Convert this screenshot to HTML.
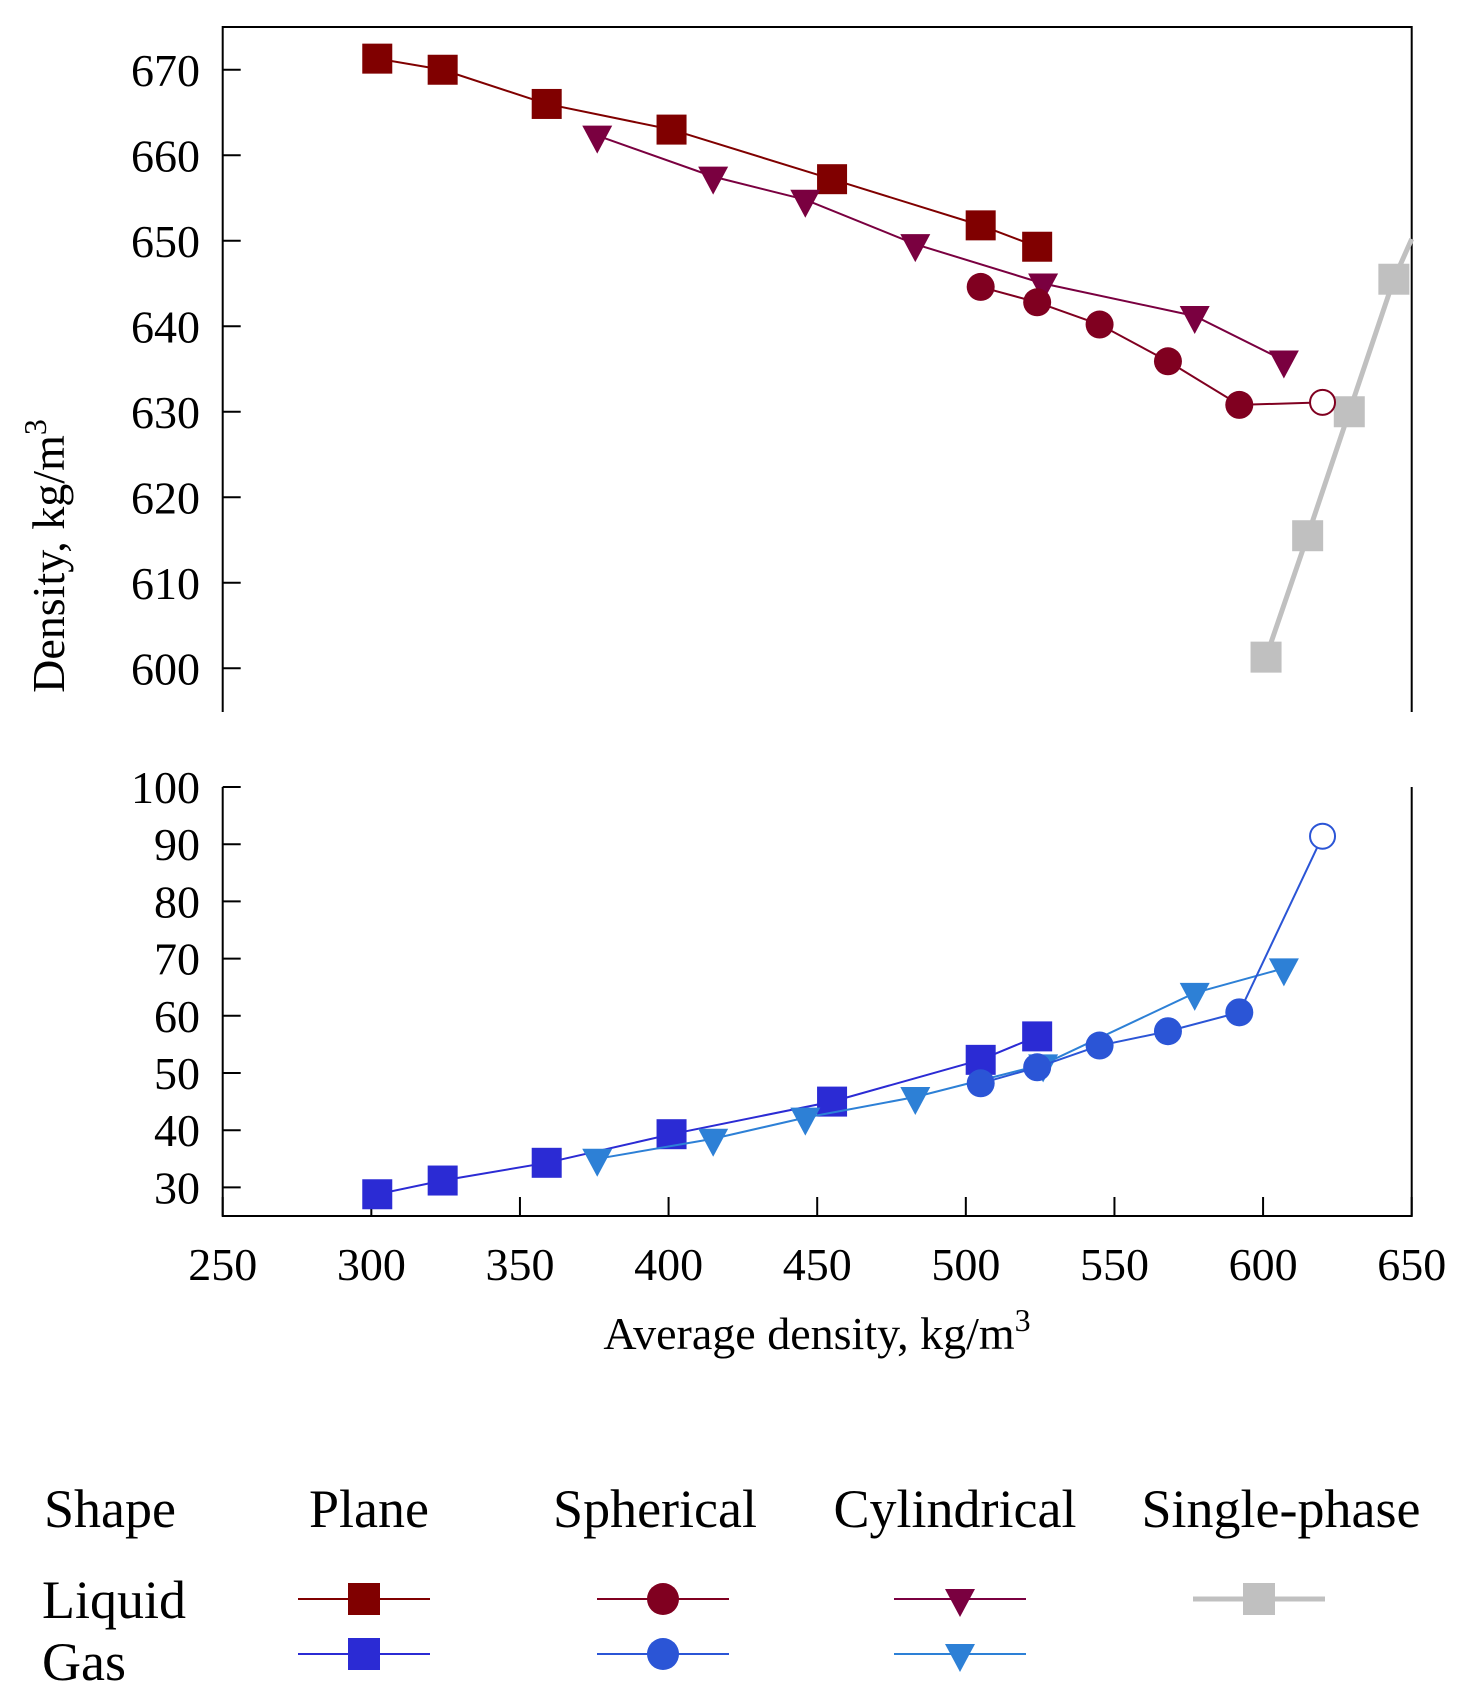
<!DOCTYPE html>
<html><head><meta charset="utf-8"><style>
html,body{margin:0;padding:0;background:#fff;}
svg{display:block;font-family:"Liberation Serif",serif;}
</style></head><body>
<svg id="chart" width="1470" height="1702" viewBox="0 0 1470 1702" xmlns="http://www.w3.org/2000/svg">
<g id="axes"></g><g id="series"></g>
<text transform="translate(64,556) rotate(-90)" text-anchor="middle" font-size="46">Density, kg/m<tspan dy="-18" font-size="32">3</tspan></text>
<text x="817" y="1349" text-anchor="middle" font-size="46">Average density, kg/m<tspan dy="-18" font-size="32">3</tspan></text>
<g font-size="54">
<text x="44" y="1527">Shape</text>
<text x="369" y="1527" text-anchor="middle">Plane</text>
<text x="655" y="1527" text-anchor="middle">Spherical</text>
<text x="955" y="1527" text-anchor="middle">Cylindrical</text>
<text x="1281" y="1527" text-anchor="middle">Single-phase</text>
<text x="42" y="1618">Liquid</text>
<text x="42" y="1680">Gas</text>
</g>
<g id="legend-marks"></g>
</svg>
<script>
const xTicks=[250,300,350,400,450,500,550,600,650];
const topTicks=[600,610,620,630,640,650,660,670];
const botTicks=[30,40,50,60,70,80,90,100];
const liqPlaneX=[302,324,359,401,455,505,524];
const liqPlaneY=[671.3,670,666,663,657.2,651.8,649.3];
const liqCylX=[376,415,446,483,526,577,607];
const liqCylY=[662.3,657.5,654.8,649.6,645,641.2,636];
const liqSphX=[505,524,545,568,592,620];
const liqSphY=[644.6,642.8,640.2,635.9,630.8,631.1];
const singleX=[601,615,629,644,650];
const singleY=[601.3,615.5,630,645.5,650.2];
const gasPlaneX=[302,324,359,401,455,505,524];
const gasPlaneY=[28.8,31.2,34.3,39.3,45,52.3,56.4];
const gasSphX=[505,524,545,568,592,620];
const gasSphY=[48.2,51,54.8,57.3,60.6,91.4];
const gasCylX=[376,415,446,483,526,577,607];
const gasCylY=[35,38.5,42.2,45.8,51.5,64,68.3];

const NS="http://www.w3.org/2000/svg";
const L=222.7,R=1411.7;
const xs=v=>L+(v-250)*(R-L)/400;
const yTop=v=>27+(675-v)*(711-27)/80;
const yBot=v=>787+(100-v)*(1216-787)/75;
function mk(tag,attrs,parent){const e=document.createElementNS(NS,tag);for(const k in attrs)e.setAttribute(k,attrs[k]);parent.appendChild(e);return e;}
const axes=document.getElementById('axes'),ser=document.getElementById('series'),lm=document.getElementById('legend-marks');
const ax={stroke:"#000","stroke-width":2,fill:"none"};
let e;
e=mk('path',Object.assign({d:`M${L},712 V27 H${R} V712`},ax),axes);


e=mk('path',Object.assign({d:`M${L},787 V1216 H${R} V787`},ax),axes);


topTicks.forEach(t=>{const y=yTop(t);
 mk('line',Object.assign({x1:L,x2:L+18,y1:y,y2:y},ax),axes);
 e=mk('text',{x:200,y:y+16,'text-anchor':'end','font-size':46},axes);e.textContent=t;
 
 });
botTicks.forEach(t=>{const y=yBot(t);
 mk('line',Object.assign({x1:L,x2:L+18,y1:y,y2:y},ax),axes);
 e=mk('text',{x:200,y:y+16,'text-anchor':'end','font-size':46},axes);e.textContent=t;
 
 });
xTicks.forEach(t=>{const x=xs(t);
 mk('line',Object.assign({x1:x,x2:x,y1:1216,y2:1197},ax),axes);
 e=mk('text',{x:x,y:1280,'text-anchor':'middle','font-size':46},axes);e.textContent=t;
 
 });

function marker(shape,x,y,c,g,size){
 const s=size||30;
 if(shape==='sq') return mk('rect',{x:x-s/2,y:y-s/2,width:s,height:s,fill:c},g);
 if(shape==='ci') return mk('circle',{cx:x,cy:y,r:14,fill:c},g);
 if(shape==='oc') return mk('circle',{cx:x,cy:y,r:12.5,fill:"#fff",stroke:c,'stroke-width':2},g);
 if(shape==='tr') return mk('path',{d:`M${x-15},${y-10} H${x+15} L${x},${y+18} Z`,fill:c},g);
}
function series(name,X,Y,yf,c,shape,lw,lastOpen,size){
 const g=mk('g',{},ser);
 
 
 const pts=X.map((v,i)=>[xs(v),yf(Y[i])]);
 mk('polyline',{points:pts.map(p=>p.join(',')).join(' '),fill:'none',stroke:c,'stroke-width':lw},g);
 pts.forEach((p,i)=>{
   if(shape==='sq' && size && X[i]>=650) return;
   const m=marker(lastOpen&&i===pts.length-1?'oc':shape,p[0],p[1],c,g,size);
   
   
 });
}
series('single-phase-liquid',singleX,singleY,yTop,'#c0c0c0','sq',5,false,31);
series('liquid-plane',liqPlaneX,liqPlaneY,yTop,'#800000','sq',2,false,30);
series('liquid-cylindrical',liqCylX,liqCylY,yTop,'#7a0040','tr',2,false);
series('liquid-spherical',liqSphX,liqSphY,yTop,'#800020','ci',2,true);
series('gas-plane',gasPlaneX,gasPlaneY,yBot,'#2b2bd4','sq',2,false,30);
series('gas-cylindrical',gasCylX,gasCylY,yBot,'#2d80d6','tr',2,false);
series('gas-spherical',gasSphX,gasSphY,yBot,'#2b55d6','ci',2,true);

const legItems=[[364,1599,'#800000','sq',2,'legend-liquid-plane'],[663,1599,'#800020','ci',2,'legend-liquid-spherical'],[960,1599,'#7a0040','tr',2,'legend-liquid-cylindrical'],[1259,1599,'#c0c0c0','sq',5,'legend-single-phase'],
[364,1654,'#2b2bd4','sq',2,'legend-gas-plane'],[663,1654,'#2b55d6','ci',2,'legend-gas-spherical'],[960,1654,'#2d80d6','tr',2,'legend-gas-cylindrical']];
legItems.forEach(it=>{const g=mk('g',{},lm);
 
 
 mk('line',{x1:it[0]-66,x2:it[0]+66,y1:it[1],y2:it[1],stroke:it[2],'stroke-width':it[4]},g);
 if(it[3]==='ci') mk('ellipse',{cx:it[0],cy:it[1],rx:16,ry:16,fill:it[2]},g);
 else marker(it[3],it[0],it[1],it[2],g,32);
});
</script>
</body></html>
